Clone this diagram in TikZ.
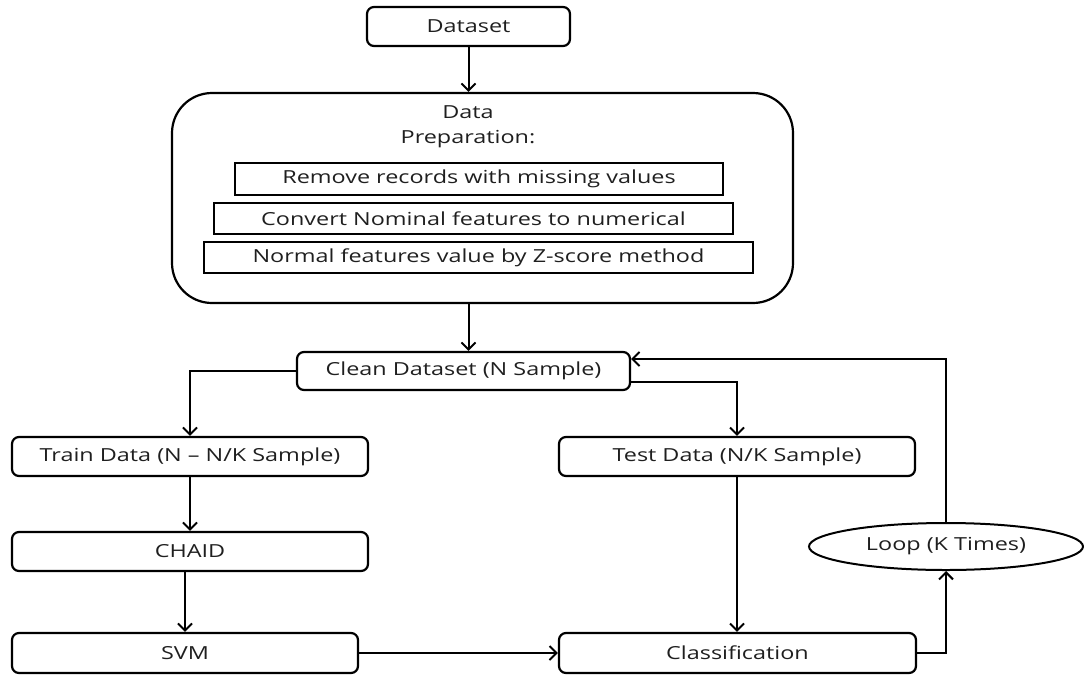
\documentclass[tikz,border=0pt]{standalone}
\usepackage{fontspec}
\setmainfont{Open Sans}[FakeStretch=1.3]
\usetikzlibrary{arrows.meta,calc,shapes.geometric}
\begin{document}
\begin{tikzpicture}[x=1pt,y=-1pt,
  every node/.style={font=\fontsize{18}{21}\selectfont, text=black!88},
  rbox/.style={draw, line width=2.2pt, rounded corners=7pt, inner sep=0pt},
  sbox/.style={draw, line width=2.2pt, inner sep=0pt},
  conn/.style={line width=2pt, -{Straight Barb[length=7pt,width=14pt,line width=2pt]}}
]
\useasboundingbox (0,0) rectangle (1084,675);
% nodes
\node[rbox, minimum width=203pt, minimum height=39pt] (ds) at (468.5,26.5) {Dataset};
\node[draw, line width=2.2pt, rounded corners=40pt, minimum width=621pt, minimum height=210pt] (prep) at (482.5,198) {};
\node[align=center, font=\fontsize{18}{25}\selectfont] (title) at (468,127) {Data\\Preparation:};
\node[sbox, minimum width=488pt, minimum height=32pt] (r1) at (479,179) {Remove records with missing values};
\node[sbox, minimum width=519pt, minimum height=31pt] (r2) at (473.5,218.5) {Convert Nominal features to numerical};
\node[sbox, minimum width=549pt, minimum height=31pt] (r3) at (478.5,257.5) {Normal features value by Z-score method};
\node[rbox, minimum width=333pt, minimum height=38pt] (clean) at (463.5,371) {Clean Dataset (N Sample)};
\node[rbox, minimum width=356pt, minimum height=39pt] (train) at (190,456.5) {Train Data (N -- N/K Sample)};
\node[rbox, minimum width=356pt, minimum height=39pt] (test) at (737,456.5) {Test Data (N/K Sample)};
\node[rbox, minimum width=356pt, minimum height=39pt] (chaid) at (190,551.5) {CHAID};
\node[rbox, minimum width=346pt, minimum height=40pt] (svm) at (185,653) {SVM};
\node[rbox, minimum width=357pt, minimum height=40pt] (cls) at (737.5,653) {Classification};
\node[draw, ellipse, line width=2pt, inner sep=0pt, minimum width=274pt, minimum height=47pt] (loop) at (946,546.5) {Loop (K Times)};
% connectors
\draw[conn] (ds.south) -- (ds.south |- prep.north);
\draw[conn] (prep.south -| ds.south) -- (ds.south |- clean.north);
\draw[conn] (clean.west) -| (train.north);
\draw[conn] ($(clean.east)+(0,11)$) -| (test.north);
\draw[conn] (train.south) -- (chaid.north);
\draw[conn] (chaid.south -| svm.north) -- (svm.north);
\draw[conn] (svm.east) -- (cls.west);
\draw[conn] (test.south) -- (test.south |- cls.north);
\draw[conn] (cls.east) -| (loop.south);
\draw[conn] (loop.north) |- ($(clean.east)+(0,-12)$);
\end{tikzpicture}
\end{document}
